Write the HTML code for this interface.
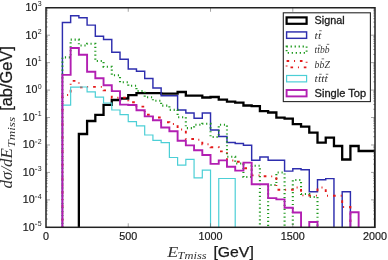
<!DOCTYPE html>
<html><head><meta charset="utf-8"><style>
html,body{margin:0;padding:0;background:#fff;}
body{width:388px;height:260px;overflow:hidden;position:relative;}
svg{position:absolute;left:0;top:0;will-change:transform;}
text{font-family:"Liberation Sans",sans-serif;fill:#1a1a1a;}
.m{font-family:"Liberation Serif",serif;font-style:italic;fill:#333;}
</style></head><body>
<svg width="388" height="260" viewBox="0 0 388 260">
<defs><clipPath id="c"><rect x="46.0" y="7.75" width="329.0" height="219.55"/></clipPath></defs>
<g clip-path="url(#c)" fill="none" stroke-linejoin="miter" stroke-linecap="butt">
<path d="M78.87,230.30 L78.87,134.00 L87.09,134.00 L87.09,121.00 L95.32,121.00 L95.32,114.80 L103.55,114.80 L103.55,104.80 L111.78,104.80 L111.78,100.00 L120.01,100.00 L120.01,98.50 L128.24,98.50 L128.24,95.20 L136.47,95.20 L136.47,93.20 L161.15,93.20 L161.15,93.70 L177.61,93.70 L177.61,92.00 L185.84,92.00 L185.84,95.60 L202.30,95.60 L202.30,97.50 L210.53,97.50 L210.53,97.00 L218.75,97.00 L218.75,99.70 L226.98,99.70 L226.98,101.70 L235.21,101.70 L235.21,102.70 L243.44,102.70 L243.44,105.50 L251.67,105.50 L251.67,106.10 L259.90,106.10 L259.90,111.20 L268.13,111.20 L268.13,112.50 L276.36,112.50 L276.36,117.60 L284.58,117.60 L284.58,118.70 L292.81,118.70 L292.81,124.10 L301.04,124.10 L301.04,126.70 L309.27,126.70 L309.27,132.70 L317.50,132.70 L317.50,142.70 L325.73,142.70 L325.73,137.60 L333.96,137.60 L333.96,146.00 L342.19,146.00 L342.19,159.50 L350.41,159.50 L350.41,146.00 L358.64,146.00 L358.64,151.00 L375.10,151.00 L375.10,230.30" stroke="#000" stroke-width="2.3"/>
<path d="M62.41,230.30 L62.41,22.40 L70.64,22.40 L70.64,15.80 L78.87,15.80 L78.87,17.70 L87.09,17.70 L87.09,25.10 L95.32,25.10 L95.32,36.30 L103.55,36.30 L103.55,39.40 L111.78,39.40 L111.78,52.30 L120.01,52.30 L120.01,59.20 L128.24,59.20 L128.24,68.90 L136.47,68.90 L136.47,71.20 L144.70,71.20 L144.70,78.50 L152.92,78.50 L152.92,88.00 L161.15,88.00 L161.15,95.70 L177.61,95.70 L177.61,109.90 L185.84,109.90 L185.84,113.00 L194.07,113.00 L194.07,118.20 L202.30,118.20 L202.30,112.90 L210.53,112.90 L210.53,130.00 L218.75,130.00 L218.75,136.40 L226.98,136.40 L226.98,142.40 L235.21,142.40 L235.21,143.40 L243.44,143.40 L243.44,145.20 L251.67,145.20 L251.67,160.30 L259.90,160.30 L259.90,157.00 L268.13,157.00 L268.13,160.20 L284.58,160.20 L284.58,171.10 L292.81,171.10 L292.81,168.80 L301.04,168.80 L301.04,169.70 L309.27,169.70 L309.27,191.80 L317.50,191.80 L317.50,179.70 L325.73,179.70 L325.73,178.60 L333.96,178.60 L333.96,230.30 L342.19,230.30 L342.19,191.80 L350.41,191.80 L350.41,230.30 L375.10,230.30 L375.10,230.30" stroke="#2e2eae" stroke-width="1.45"/>
<path d="M62.41,230.30 L62.41,57.40 L70.64,57.40 L70.64,39.60 L78.87,39.60 L78.87,45.50 L87.09,45.50 L87.09,43.70 L95.32,43.70 L95.32,61.00 L103.55,61.00 L103.55,66.70 L111.78,66.70 L111.78,75.30 L120.01,75.30 L120.01,82.20 L128.24,82.20 L128.24,85.70 L136.47,85.70 L136.47,91.00 L144.70,91.00 L144.70,97.20 L152.92,97.20 L152.92,100.70 L161.15,100.70 L161.15,105.60 L169.38,105.60 L169.38,109.90 L177.61,109.90 L177.61,117.20 L185.84,117.20 L185.84,128.10 L194.07,128.10 L194.07,124.80 L202.30,124.80 L202.30,123.80 L210.53,123.80 L210.53,137.00 L218.75,137.00 L218.75,124.70 L226.98,124.70 L226.98,156.70 L235.21,156.70 L235.21,163.50 L243.44,163.50 L243.44,177.00 L251.67,177.00 L251.67,165.70 L259.90,165.70 L259.90,230.30 L268.13,230.30 L268.13,185.00 L276.36,185.00 L276.36,172.50 L284.58,172.50 L284.58,230.30 L292.81,230.30 L292.81,180.00 L301.04,180.00 L301.04,194.00 L309.27,194.00 L309.27,197.00 L317.50,197.00 L317.50,230.30 L375.10,230.30 L375.10,230.30" stroke="#1f9a1f" stroke-width="2.1" stroke-dasharray="1.15,2.78" stroke-dashoffset="1.46"/>
<path d="M62.41,230.30 L62.41,95.00 L70.64,95.00 L70.64,80.90 L78.87,80.90 L78.87,87.40 L87.09,87.40 L87.09,86.90 L103.55,86.90 L103.55,90.40 L111.78,90.40 L111.78,97.80 L120.01,97.80 L120.01,97.60 L128.24,97.60 L128.24,102.30 L136.47,102.30 L136.47,106.60 L144.70,106.60 L144.70,114.80 L152.92,114.80 L152.92,117.50 L161.15,117.50 L161.15,122.20 L169.38,122.20 L169.38,124.00 L177.61,124.00 L177.61,129.50 L185.84,129.50 L185.84,139.00 L194.07,139.00 L194.07,139.70 L202.30,139.70 L202.30,144.20 L210.53,144.20 L210.53,147.20 L218.75,147.20 L218.75,151.40 L226.98,151.40 L226.98,160.50 L235.21,160.50 L235.21,161.80 L243.44,161.80 L243.44,168.20 L251.67,168.20 L251.67,175.40 L259.90,175.40 L259.90,176.20 L268.13,176.20 L268.13,176.40 L276.36,176.40 L276.36,189.80 L284.58,189.80 L284.58,189.70 L292.81,189.70 L292.81,187.50 L301.04,187.50 L301.04,195.40 L309.27,195.40 L309.27,195.60 L317.50,195.60 L317.50,187.50 L325.73,187.50 L325.73,195.70 L342.19,195.70 L342.19,207.00 L350.41,207.00 L350.41,230.30 L375.10,230.30 L375.10,230.30" stroke="#e31a1a" stroke-width="1.9" stroke-dasharray="2.7,5,1,5" stroke-dashoffset="4.7"/>
<path d="M62.41,230.30 L62.41,105.10 L70.64,105.10 L70.64,87.10 L78.87,87.10 L78.87,87.00 L87.09,87.00 L87.09,91.80 L95.32,91.80 L95.32,97.20 L103.55,97.20 L103.55,103.00 L111.78,103.00 L111.78,110.00 L120.01,110.00 L120.01,114.60 L128.24,114.60 L128.24,121.60 L136.47,121.60 L136.47,125.90 L144.70,125.90 L144.70,135.00 L152.92,135.00 L152.92,140.40 L161.15,140.40 L161.15,142.60 L169.38,142.60 L169.38,157.50 L177.61,157.50 L177.61,165.20 L185.84,165.20 L185.84,159.40 L194.07,159.40 L194.07,177.80 L202.30,177.80 L202.30,170.10 L210.53,170.10 L210.53,230.30 L218.75,230.30 L218.75,178.50 L235.21,178.50 L235.21,230.30 L375.10,230.30 L375.10,230.30" stroke="#4ccfd6" stroke-width="1.2"/>
<path d="M62.41,230.30 L62.41,74.90 L70.64,74.90 L70.64,48.00 L78.87,48.00 L78.87,54.70 L87.09,54.70 L87.09,71.80 L95.32,71.80 L95.32,78.20 L103.55,78.20 L103.55,85.30 L111.78,85.30 L111.78,91.10 L120.01,91.10 L120.01,104.60 L128.24,104.60 L128.24,105.00 L136.47,105.00 L136.47,110.30 L144.70,110.30 L144.70,116.40 L152.92,116.40 L152.92,120.30 L161.15,120.30 L161.15,127.50 L169.38,127.50 L169.38,131.20 L177.61,131.20 L177.61,140.70 L185.84,140.70 L185.84,145.40 L194.07,145.40 L194.07,150.20 L202.30,150.20 L202.30,155.00 L210.53,155.00 L210.53,163.90 L218.75,163.90 L218.75,160.40 L226.98,160.40 L226.98,166.80 L235.21,166.80 L235.21,170.60 L243.44,170.60 L243.44,162.60 L251.67,162.60 L251.67,184.20 L268.13,184.20 L268.13,198.10 L276.36,198.10 L276.36,199.40 L284.58,199.40 L284.58,207.70 L292.81,207.70 L292.81,212.50 L301.04,212.50 L301.04,230.30 L309.27,230.30 L309.27,222.00 L317.50,222.00 L317.50,230.30 L350.41,230.30 L350.41,212.30 L358.64,212.30 L358.64,230.30 L375.10,230.30 L375.10,230.30" stroke="#b21fb2" stroke-width="1.9"/>
</g>
<g stroke="#666" stroke-width="0.6"><line x1="46.00" y1="227.30" x2="50.00" y2="227.30"/><line x1="375.00" y1="227.30" x2="371.00" y2="227.30"/><line x1="46.00" y1="199.86" x2="50.00" y2="199.86"/><line x1="375.00" y1="199.86" x2="371.00" y2="199.86"/><line x1="46.00" y1="172.41" x2="50.00" y2="172.41"/><line x1="375.00" y1="172.41" x2="371.00" y2="172.41"/><line x1="46.00" y1="144.97" x2="50.00" y2="144.97"/><line x1="375.00" y1="144.97" x2="371.00" y2="144.97"/><line x1="46.00" y1="117.53" x2="50.00" y2="117.53"/><line x1="375.00" y1="117.53" x2="371.00" y2="117.53"/><line x1="46.00" y1="90.08" x2="50.00" y2="90.08"/><line x1="375.00" y1="90.08" x2="371.00" y2="90.08"/><line x1="46.00" y1="62.64" x2="50.00" y2="62.64"/><line x1="375.00" y1="62.64" x2="371.00" y2="62.64"/><line x1="46.00" y1="35.19" x2="50.00" y2="35.19"/><line x1="375.00" y1="35.19" x2="371.00" y2="35.19"/><line x1="46.00" y1="7.75" x2="50.00" y2="7.75"/><line x1="375.00" y1="7.75" x2="371.00" y2="7.75"/><line x1="128.24" y1="227.30" x2="128.24" y2="223.30"/><line x1="128.24" y1="7.75" x2="128.24" y2="11.75"/><line x1="210.53" y1="227.30" x2="210.53" y2="223.30"/><line x1="210.53" y1="7.75" x2="210.53" y2="11.75"/><line x1="292.81" y1="227.30" x2="292.81" y2="223.30"/><line x1="292.81" y1="7.75" x2="292.81" y2="11.75"/></g>
<g stroke="#444" stroke-width="0.5"><line x1="46.00" y1="219.04" x2="47.80" y2="219.04"/><line x1="375.00" y1="219.04" x2="373.20" y2="219.04"/><line x1="46.00" y1="214.21" x2="47.80" y2="214.21"/><line x1="375.00" y1="214.21" x2="373.20" y2="214.21"/><line x1="46.00" y1="210.78" x2="47.80" y2="210.78"/><line x1="375.00" y1="210.78" x2="373.20" y2="210.78"/><line x1="46.00" y1="208.12" x2="47.80" y2="208.12"/><line x1="375.00" y1="208.12" x2="373.20" y2="208.12"/><line x1="46.00" y1="205.94" x2="47.80" y2="205.94"/><line x1="375.00" y1="205.94" x2="373.20" y2="205.94"/><line x1="46.00" y1="204.11" x2="47.80" y2="204.11"/><line x1="375.00" y1="204.11" x2="373.20" y2="204.11"/><line x1="46.00" y1="202.52" x2="47.80" y2="202.52"/><line x1="375.00" y1="202.52" x2="373.20" y2="202.52"/><line x1="46.00" y1="201.11" x2="47.80" y2="201.11"/><line x1="375.00" y1="201.11" x2="373.20" y2="201.11"/><line x1="46.00" y1="191.59" x2="47.80" y2="191.59"/><line x1="375.00" y1="191.59" x2="373.20" y2="191.59"/><line x1="46.00" y1="186.76" x2="47.80" y2="186.76"/><line x1="375.00" y1="186.76" x2="373.20" y2="186.76"/><line x1="46.00" y1="183.33" x2="47.80" y2="183.33"/><line x1="375.00" y1="183.33" x2="373.20" y2="183.33"/><line x1="46.00" y1="180.67" x2="47.80" y2="180.67"/><line x1="375.00" y1="180.67" x2="373.20" y2="180.67"/><line x1="46.00" y1="178.50" x2="47.80" y2="178.50"/><line x1="375.00" y1="178.50" x2="373.20" y2="178.50"/><line x1="46.00" y1="176.66" x2="47.80" y2="176.66"/><line x1="375.00" y1="176.66" x2="373.20" y2="176.66"/><line x1="46.00" y1="175.07" x2="47.80" y2="175.07"/><line x1="375.00" y1="175.07" x2="373.20" y2="175.07"/><line x1="46.00" y1="173.67" x2="47.80" y2="173.67"/><line x1="375.00" y1="173.67" x2="373.20" y2="173.67"/><line x1="46.00" y1="164.15" x2="47.80" y2="164.15"/><line x1="375.00" y1="164.15" x2="373.20" y2="164.15"/><line x1="46.00" y1="159.32" x2="47.80" y2="159.32"/><line x1="375.00" y1="159.32" x2="373.20" y2="159.32"/><line x1="46.00" y1="155.89" x2="47.80" y2="155.89"/><line x1="375.00" y1="155.89" x2="373.20" y2="155.89"/><line x1="46.00" y1="153.23" x2="47.80" y2="153.23"/><line x1="375.00" y1="153.23" x2="373.20" y2="153.23"/><line x1="46.00" y1="151.06" x2="47.80" y2="151.06"/><line x1="375.00" y1="151.06" x2="373.20" y2="151.06"/><line x1="46.00" y1="149.22" x2="47.80" y2="149.22"/><line x1="375.00" y1="149.22" x2="373.20" y2="149.22"/><line x1="46.00" y1="147.63" x2="47.80" y2="147.63"/><line x1="375.00" y1="147.63" x2="373.20" y2="147.63"/><line x1="46.00" y1="146.22" x2="47.80" y2="146.22"/><line x1="375.00" y1="146.22" x2="373.20" y2="146.22"/><line x1="46.00" y1="136.71" x2="47.80" y2="136.71"/><line x1="375.00" y1="136.71" x2="373.20" y2="136.71"/><line x1="46.00" y1="131.87" x2="47.80" y2="131.87"/><line x1="375.00" y1="131.87" x2="373.20" y2="131.87"/><line x1="46.00" y1="128.45" x2="47.80" y2="128.45"/><line x1="375.00" y1="128.45" x2="373.20" y2="128.45"/><line x1="46.00" y1="125.79" x2="47.80" y2="125.79"/><line x1="375.00" y1="125.79" x2="373.20" y2="125.79"/><line x1="46.00" y1="123.61" x2="47.80" y2="123.61"/><line x1="375.00" y1="123.61" x2="373.20" y2="123.61"/><line x1="46.00" y1="121.78" x2="47.80" y2="121.78"/><line x1="375.00" y1="121.78" x2="373.20" y2="121.78"/><line x1="46.00" y1="120.18" x2="47.80" y2="120.18"/><line x1="375.00" y1="120.18" x2="373.20" y2="120.18"/><line x1="46.00" y1="118.78" x2="47.80" y2="118.78"/><line x1="375.00" y1="118.78" x2="373.20" y2="118.78"/><line x1="46.00" y1="109.26" x2="47.80" y2="109.26"/><line x1="375.00" y1="109.26" x2="373.20" y2="109.26"/><line x1="46.00" y1="104.43" x2="47.80" y2="104.43"/><line x1="375.00" y1="104.43" x2="373.20" y2="104.43"/><line x1="46.00" y1="101.00" x2="47.80" y2="101.00"/><line x1="375.00" y1="101.00" x2="373.20" y2="101.00"/><line x1="46.00" y1="98.34" x2="47.80" y2="98.34"/><line x1="375.00" y1="98.34" x2="373.20" y2="98.34"/><line x1="46.00" y1="96.17" x2="47.80" y2="96.17"/><line x1="375.00" y1="96.17" x2="373.20" y2="96.17"/><line x1="46.00" y1="94.33" x2="47.80" y2="94.33"/><line x1="375.00" y1="94.33" x2="373.20" y2="94.33"/><line x1="46.00" y1="92.74" x2="47.80" y2="92.74"/><line x1="375.00" y1="92.74" x2="373.20" y2="92.74"/><line x1="46.00" y1="91.34" x2="47.80" y2="91.34"/><line x1="375.00" y1="91.34" x2="373.20" y2="91.34"/><line x1="46.00" y1="81.82" x2="47.80" y2="81.82"/><line x1="375.00" y1="81.82" x2="373.20" y2="81.82"/><line x1="46.00" y1="76.99" x2="47.80" y2="76.99"/><line x1="375.00" y1="76.99" x2="373.20" y2="76.99"/><line x1="46.00" y1="73.56" x2="47.80" y2="73.56"/><line x1="375.00" y1="73.56" x2="373.20" y2="73.56"/><line x1="46.00" y1="70.90" x2="47.80" y2="70.90"/><line x1="375.00" y1="70.90" x2="373.20" y2="70.90"/><line x1="46.00" y1="68.73" x2="47.80" y2="68.73"/><line x1="375.00" y1="68.73" x2="373.20" y2="68.73"/><line x1="46.00" y1="66.89" x2="47.80" y2="66.89"/><line x1="375.00" y1="66.89" x2="373.20" y2="66.89"/><line x1="46.00" y1="65.30" x2="47.80" y2="65.30"/><line x1="375.00" y1="65.30" x2="373.20" y2="65.30"/><line x1="46.00" y1="63.89" x2="47.80" y2="63.89"/><line x1="375.00" y1="63.89" x2="373.20" y2="63.89"/><line x1="46.00" y1="54.38" x2="47.80" y2="54.38"/><line x1="375.00" y1="54.38" x2="373.20" y2="54.38"/><line x1="46.00" y1="49.54" x2="47.80" y2="49.54"/><line x1="375.00" y1="49.54" x2="373.20" y2="49.54"/><line x1="46.00" y1="46.11" x2="47.80" y2="46.11"/><line x1="375.00" y1="46.11" x2="373.20" y2="46.11"/><line x1="46.00" y1="43.46" x2="47.80" y2="43.46"/><line x1="375.00" y1="43.46" x2="373.20" y2="43.46"/><line x1="46.00" y1="41.28" x2="47.80" y2="41.28"/><line x1="375.00" y1="41.28" x2="373.20" y2="41.28"/><line x1="46.00" y1="39.44" x2="47.80" y2="39.44"/><line x1="375.00" y1="39.44" x2="373.20" y2="39.44"/><line x1="46.00" y1="37.85" x2="47.80" y2="37.85"/><line x1="375.00" y1="37.85" x2="373.20" y2="37.85"/><line x1="46.00" y1="36.45" x2="47.80" y2="36.45"/><line x1="375.00" y1="36.45" x2="373.20" y2="36.45"/><line x1="46.00" y1="26.93" x2="47.80" y2="26.93"/><line x1="375.00" y1="26.93" x2="373.20" y2="26.93"/><line x1="46.00" y1="22.10" x2="47.80" y2="22.10"/><line x1="375.00" y1="22.10" x2="373.20" y2="22.10"/><line x1="46.00" y1="18.67" x2="47.80" y2="18.67"/><line x1="375.00" y1="18.67" x2="373.20" y2="18.67"/><line x1="46.00" y1="16.01" x2="47.80" y2="16.01"/><line x1="375.00" y1="16.01" x2="373.20" y2="16.01"/><line x1="46.00" y1="13.84" x2="47.80" y2="13.84"/><line x1="375.00" y1="13.84" x2="373.20" y2="13.84"/><line x1="46.00" y1="12.00" x2="47.80" y2="12.00"/><line x1="375.00" y1="12.00" x2="373.20" y2="12.00"/><line x1="46.00" y1="10.41" x2="47.80" y2="10.41"/><line x1="375.00" y1="10.41" x2="373.20" y2="10.41"/><line x1="46.00" y1="9.01" x2="47.80" y2="9.01"/><line x1="375.00" y1="9.01" x2="373.20" y2="9.01"/></g>
<rect x="46.0" y="7.75" width="329.0" height="219.55" fill="none" stroke="#222" stroke-width="1.5"/>
<text x="34.60" y="230.70" text-anchor="end" font-size="10.3" stroke="#1a1a1a" stroke-width="0.2" textLength="11.8" lengthAdjust="spacingAndGlyphs">10</text><text x="41.7" y="226.00" text-anchor="end" font-size="7">5</text><line x1="34.9" y1="224.30" x2="37.2" y2="224.30" stroke="#333" stroke-width="0.75"/><text x="34.60" y="203.26" text-anchor="end" font-size="10.3" stroke="#1a1a1a" stroke-width="0.2" textLength="11.8" lengthAdjust="spacingAndGlyphs">10</text><text x="41.7" y="198.56" text-anchor="end" font-size="7">4</text><line x1="34.9" y1="196.86" x2="37.2" y2="196.86" stroke="#333" stroke-width="0.75"/><text x="34.60" y="175.81" text-anchor="end" font-size="10.3" stroke="#1a1a1a" stroke-width="0.2" textLength="11.8" lengthAdjust="spacingAndGlyphs">10</text><text x="41.7" y="171.11" text-anchor="end" font-size="7">3</text><line x1="34.9" y1="169.41" x2="37.2" y2="169.41" stroke="#333" stroke-width="0.75"/><text x="34.60" y="148.37" text-anchor="end" font-size="10.3" stroke="#1a1a1a" stroke-width="0.2" textLength="11.8" lengthAdjust="spacingAndGlyphs">10</text><text x="41.7" y="143.67" text-anchor="end" font-size="7">2</text><line x1="34.9" y1="141.97" x2="37.2" y2="141.97" stroke="#333" stroke-width="0.75"/><text x="34.60" y="120.93" text-anchor="end" font-size="10.3" stroke="#1a1a1a" stroke-width="0.2" textLength="11.8" lengthAdjust="spacingAndGlyphs">10</text><text x="41.7" y="116.23" text-anchor="end" font-size="7">1</text><line x1="34.9" y1="114.53" x2="37.2" y2="114.53" stroke="#333" stroke-width="0.75"/><text x="37.30" y="93.48" text-anchor="end" font-size="10.3" stroke="#1a1a1a" stroke-width="0.2" textLength="11.8" lengthAdjust="spacingAndGlyphs">10</text><text x="41.7" y="88.78" text-anchor="end" font-size="7">0</text><text x="37.30" y="66.04" text-anchor="end" font-size="10.3" stroke="#1a1a1a" stroke-width="0.2" textLength="11.8" lengthAdjust="spacingAndGlyphs">10</text><text x="41.7" y="61.34" text-anchor="end" font-size="7">1</text><text x="37.30" y="38.59" text-anchor="end" font-size="10.3" stroke="#1a1a1a" stroke-width="0.2" textLength="11.8" lengthAdjust="spacingAndGlyphs">10</text><text x="41.7" y="33.89" text-anchor="end" font-size="7">2</text><text x="37.30" y="11.15" text-anchor="end" font-size="10.3" stroke="#1a1a1a" stroke-width="0.2" textLength="11.8" lengthAdjust="spacingAndGlyphs">10</text><text x="41.7" y="6.45" text-anchor="end" font-size="7">3</text>
<text x="45.95" y="239.6" text-anchor="middle" font-size="10.3" stroke="#1a1a1a" stroke-width="0.2" textLength="6.00" lengthAdjust="spacingAndGlyphs">0</text><text x="128.24" y="239.6" text-anchor="middle" font-size="10.3" stroke="#1a1a1a" stroke-width="0.2" textLength="18.00" lengthAdjust="spacingAndGlyphs">500</text><text x="210.53" y="239.6" text-anchor="middle" font-size="10.3" stroke="#1a1a1a" stroke-width="0.2" textLength="24.00" lengthAdjust="spacingAndGlyphs">1000</text><text x="292.81" y="239.6" text-anchor="middle" font-size="10.3" stroke="#1a1a1a" stroke-width="0.2" textLength="24.00" lengthAdjust="spacingAndGlyphs">1500</text><text x="375.10" y="239.6" text-anchor="middle" font-size="10.3" stroke="#1a1a1a" stroke-width="0.2" textLength="24.00" lengthAdjust="spacingAndGlyphs">2000</text>
<rect x="283.3" y="12.8" width="87.1" height="88.8" fill="#fff" stroke="#262626" stroke-width="1.1"/><rect x="286.60" y="17.40" width="20.00" height="6.40" fill="none" stroke="#000" stroke-width="2.2"/><rect x="286.60" y="31.92" width="20.00" height="6.40" fill="none" stroke="#2e2eae" stroke-width="1.45"/><rect x="286.60" y="46.44" width="20.00" height="6.40" fill="none" stroke="#1f9a1f" stroke-width="1.9" stroke-dasharray="1.3,2.7"/><rect x="286.60" y="60.96" width="20.00" height="6.40" fill="none" stroke="#e31a1a" stroke-width="1.9" stroke-dasharray="2.6,4.85,1,4.85"/><rect x="286.60" y="75.48" width="20.00" height="6.40" fill="none" stroke="#4ccfd6" stroke-width="1.2"/><rect x="286.60" y="90.00" width="20.00" height="6.40" fill="none" stroke="#b21fb2" stroke-width="1.9"/><text x="314.6" y="24.10" font-size="10.3" textLength="30" lengthAdjust="spacingAndGlyphs" stroke="#1a1a1a" stroke-width="0.3">Signal</text><text x="314.6" y="96.70" font-size="10.3" textLength="51.5" lengthAdjust="spacingAndGlyphs" stroke="#1a1a1a" stroke-width="0.3">Single Top</text><text x="314.6" y="38.82" font-size="10.8" class="m" textLength="6.60" lengthAdjust="spacingAndGlyphs">tt</text><line x1="319.20" y1="30.72" x2="321.70" y2="30.72" stroke="#333" stroke-width="0.7"/><text x="314.6" y="53.34" font-size="10.8" class="m" textLength="14.90" lengthAdjust="spacingAndGlyphs">ttbb</text><line x1="318.24" y1="45.24" x2="320.74" y2="45.24" stroke="#333" stroke-width="0.7"/><line x1="326.76" y1="44.34" x2="329.26" y2="44.34" stroke="#333" stroke-width="0.7"/><text x="314.6" y="67.86" font-size="10.8" class="m" textLength="15.30" lengthAdjust="spacingAndGlyphs">bbZ</text><line x1="321.62" y1="58.86" x2="324.12" y2="58.86" stroke="#333" stroke-width="0.7"/><text x="314.6" y="82.38" font-size="10.8" class="m" textLength="13.20" lengthAdjust="spacingAndGlyphs">tttt</text><line x1="319.20" y1="74.28" x2="321.70" y2="74.28" stroke="#333" stroke-width="0.7"/><line x1="325.80" y1="74.28" x2="328.30" y2="74.28" stroke="#333" stroke-width="0.7"/>
<text x="167.3" y="256.7" font-size="14.6" class="m" textLength="11" lengthAdjust="spacingAndGlyphs">E</text>
<text x="177.6" y="258.6" font-size="10" class="m" textLength="29" lengthAdjust="spacingAndGlyphs">Tmiss</text>
<text x="213.4" y="256.6" font-size="15.2" textLength="40.4" lengthAdjust="spacingAndGlyphs" stroke="#1a1a1a" stroke-width="0.25">[GeV]</text>
<g transform="translate(11.5,188.5) rotate(-90)">
<text x="0" y="0" font-size="16" class="m" textLength="40.5" lengthAdjust="spacingAndGlyphs">d&#963;/dE</text>
<text x="41" y="3.3" font-size="10.5" class="m" textLength="30.5" lengthAdjust="spacingAndGlyphs">Tmiss</text>
<text x="77.7" y="0" font-size="15.6" textLength="64.6" lengthAdjust="spacingAndGlyphs" stroke="#1a1a1a" stroke-width="0.25">[ab/GeV]</text>
</g>
</svg>
</body></html>
